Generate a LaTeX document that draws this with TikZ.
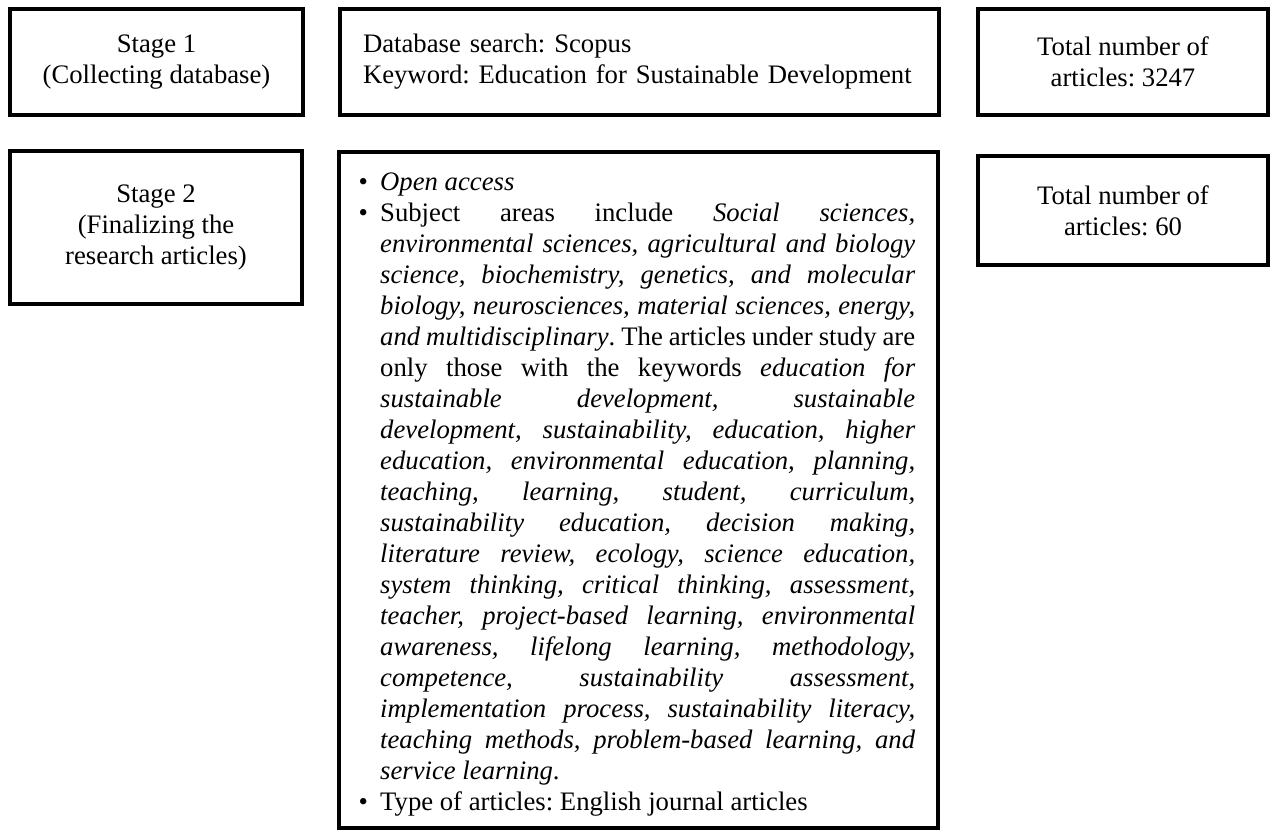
\documentclass[tikz,border=0pt]{standalone}
\usepackage{fontspec}
\setmainfont{Liberation Serif}
\newcommand{\fs}{\fontsize{26.7pt}{31pt}\selectfont\frenchspacing}
\newcommand{\jl}[1]{\hbox to \hsize{#1}}
\newcommand{\bul}{\llap{\textbullet\hspace{12.3pt}}}
\tikzset{
  box/.style={draw=black, line width=4.5pt, fill=white, inner sep=0pt, font=\fs},
  cbox/.style={box, align=center},
}
\begin{document}
\frenchspacing
\begin{tikzpicture}[x=1pt,y=-1pt]
\useasboundingbox (0,0) rectangle (1271,831);
% row 1
\node[cbox, minimum width=293pt, minimum height=106pt] (s1) at (156.5,62) {Stage 1\\(Collecting database)};
\node[box, minimum width=599pt, minimum height=106pt, text width=553pt, inner xsep=23pt, align=left] (db) at (639.5,62)
  {\hyphenpenalty=10000 Database search: Scopus\\Keyword: Education for Sustainable Development};
\node[cbox, minimum width=290pt, minimum height=106pt] (n1) at (1123,62) {Total number of\\articles: 3247};
% row 2
\node[cbox, minimum width=292pt, minimum height=153pt] (s2) at (156,227.5) {Stage 2\\(Finalizing the\\research articles)};
\node[box, minimum width=599pt, minimum height=676pt] (critbox) at (638.5,490) {};
\node[cbox, minimum width=290pt, minimum height=109pt] (n2) at (1123,210.5) {Total number of\\articles: 60};
\node[anchor=base west, inner sep=0pt, font=\fs] (crit) at (380,190) {\vtop{\hsize=535pt \baselineskip=31pt
\hbox{\bul\textit{Open access}}
\jl{\bul Subject areas include \textit{Social sciences,}}
\jl{\textit{environmental sciences, agricultural and biology}}
\jl{\textit{science, biochemistry, genetics, and molecular}}
\jl{\textit{biology, neurosciences, material sciences, energy,}}
\jl{\textit{and multidisciplinary}. The articles under study are}
\jl{only those with the keywords \textit{education for}}
\jl{\textit{sustainable development, sustainable}}
\jl{\textit{development, sustainability, education, higher}}
\jl{\textit{education, environmental education, planning,}}
\jl{\textit{teaching, learning, student, curriculum,}}
\jl{\textit{sustainability education, decision making,}}
\jl{\textit{literature review, ecology, science education,}}
\jl{\textit{system thinking, critical thinking, assessment,}}
\jl{\textit{teacher, project-based learning, environmental}}
\jl{\textit{awareness, lifelong learning, methodology,}}
\jl{\textit{competence, sustainability assessment,}}
\jl{\textit{implementation process, sustainability literacy,}}
\jl{\textit{teaching methods, problem-based learning, and}}
\hbox{\textit{service learning}.}
\hbox{\bul Type of articles: English journal articles}
}};
\end{tikzpicture}
\end{document}
